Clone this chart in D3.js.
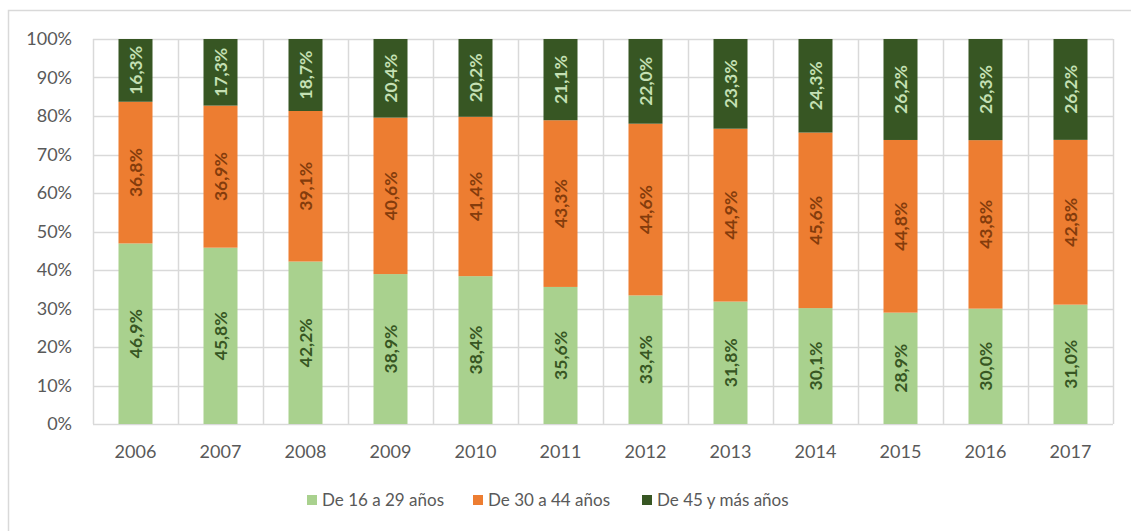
<!DOCTYPE html>
<html>
<head>
<meta charset="utf-8">
<script src="https://cdn.jsdelivr.net/npm/d3@7"></script>
<style>
  body { margin: 0; background: #fff; }
  text { font-family: Lato, "Open Sans", sans-serif; }
</style>
</head>
<body>
<div id="chart"></div>
<script>
const years = ["2006","2007","2008","2009","2010","2011","2012","2013","2014","2015","2016","2017"];
const seriesNames = ["De 16 a 29 años", "De 30 a 44 años", "De 45 y más años"];
const young = [46.9, 45.8, 42.2, 38.9, 38.4, 35.6, 33.4, 31.8, 30.1, 28.9, 30.0, 31.0];
const middle = [36.8, 36.9, 39.1, 40.6, 41.4, 43.3, 44.6, 44.9, 45.6, 44.8, 43.8, 42.8];
const older = [16.3, 17.3, 18.7, 20.4, 20.2, 21.1, 22.0, 23.3, 24.3, 26.2, 26.3, 26.2];
const yTicks = [0, 10, 20, 30, 40, 50, 60, 70, 80, 90, 100];

const colors = ["#A9D18E", "#ED7D31", "#375623"];
const labelColors = ["#375623", "#843C0C", "#C5E0B4"];

const W = 1131, H = 531;
const margin = {top: 39, right: 18, bottom: 107, left: 93};
const width = W - margin.left - margin.right,
      height = H - margin.top - margin.bottom;

const svg = d3.select("#chart").append("svg")
    .attr("width", W)
    .attr("height", H);

// outer chart border
svg.append("rect")
    .attr("x", 8.5).attr("y", 10.5)
    .attr("width", W + 20).attr("height", H + 20)
    .attr("fill", "none")
    .attr("stroke", "#D9D9D9")
    .attr("stroke-width", 1.5);

const g = svg.append("g")
    .attr("transform", "translate(" + margin.left + "," + margin.top + ")");

const rows = years.map((y, i) => ({year: y, s0: young[i], s1: middle[i], s2: older[i]}));
const stack = d3.stack().keys(["s0", "s1", "s2"]).offset(d3.stackOffsetExpand);
const layers = stack(rows);

const x = d3.scaleBand().domain(years).range([0, width]).paddingInner(0).paddingOuter(0);
const y = d3.scaleLinear().domain([0, 1]).range([height, 0]);

// horizontal grid
g.selectAll(".hgrid")
  .data(yTicks)
  .enter().append("line")
    .attr("x1", 0).attr("x2", width)
    .attr("y1", d => Math.round(y(d / 100)) + 0.5)
    .attr("y2", d => Math.round(y(d / 100)) + 0.5)
    .attr("stroke", "#D9D9D9")
    .attr("stroke-width", 1.5);

// vertical grid (category boundaries)
const bounds = years.map(d => x(d)).concat([width]);
g.selectAll(".vgrid")
  .data(bounds)
  .enter().append("line")
    .attr("x1", d => Math.round(d) + 0.5).attr("x2", d => Math.round(d) + 0.5)
    .attr("y1", 0).attr("y2", height)
    .attr("stroke", "#D9D9D9")
    .attr("stroke-width", 1.5);

const barW = x.bandwidth() * 0.4;

const layerG = g.selectAll(".layer")
  .data(layers)
  .enter().append("g")
    .attr("fill", (d, i) => colors[i]);

layerG.selectAll("rect")
  .data(d => d)
  .enter().append("rect")
    .attr("x", d => x(d.data.year) + (x.bandwidth() - barW) / 2)
    .attr("y", d => y(d[1]))
    .attr("width", barW)
    .attr("height", d => y(d[0]) - y(d[1]));

// data labels
const vals = [young, middle, older];
layers.forEach((layer, li) => {
  g.selectAll(".lab" + li)
    .data(layer)
    .enter().append("text")
      .attr("transform", (d, i) => {
        const cx = x(d.data.year) + x.bandwidth() / 2;
        const cy = (y(d[0]) + y(d[1])) / 2;
        return "translate(" + cx + "," + cy + ") rotate(-90)";
      })
      .attr("text-anchor", "middle")
      .attr("dy", "0.35em")
      .attr("font-size", "17.5px")
      .attr("font-weight", "bold")
      .attr("fill", labelColors[li])
      .text((d, i) => vals[li][i].toFixed(1).replace(".", ",") + "%");
});

// y axis labels
g.selectAll(".ylab")
  .data(yTicks)
  .enter().append("text")
    .attr("x", -21)
    .attr("y", d => y(d / 100))
    .attr("dy", "0.35em")
    .attr("text-anchor", "end")
    .attr("font-size", "18px")
    .attr("fill", "#595959")
    .text(d => d + "%");

// x axis labels
g.selectAll(".xlab")
  .data(years)
  .enter().append("text")
    .attr("x", d => x(d) + x.bandwidth() / 2)
    .attr("y", height + 28)
    .attr("dy", "0.35em")
    .attr("text-anchor", "middle")
    .attr("font-size", "18px")
    .attr("fill", "#595959")
    .text(d => d);

// legend
const legendX = [307, 473, 642];
const legend = svg.selectAll(".legend")
  .data(seriesNames)
  .enter().append("g")
    .attr("transform", (d, i) => "translate(" + legendX[i] + ",500)");

legend.append("rect")
    .attr("x", 0).attr("y", -5)
    .attr("width", 10).attr("height", 10)
    .attr("fill", (d, i) => colors[i]);

legend.append("text")
    .attr("x", 15)
    .attr("dy", "0.35em")
    .attr("font-size", "17px")
    .attr("fill", "#595959")
    .text(d => d);
</script>
</body>
</html>
